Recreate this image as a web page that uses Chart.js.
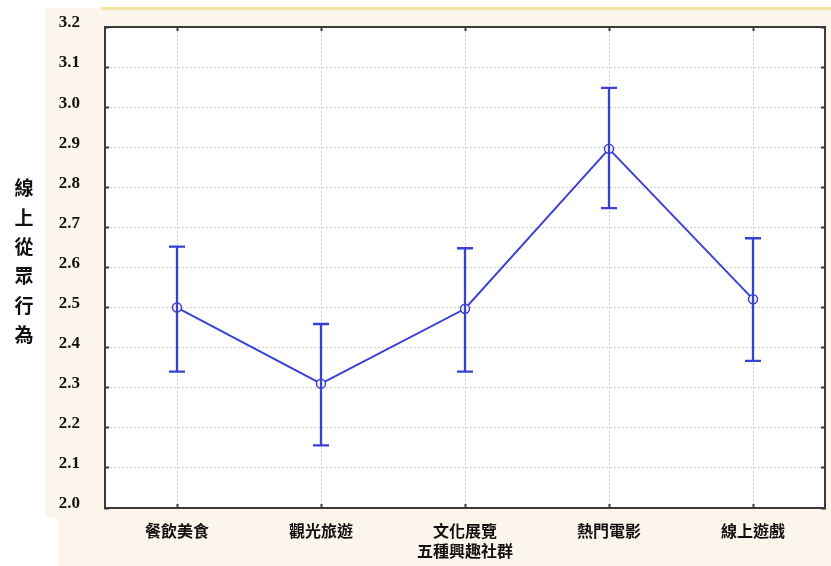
<!DOCTYPE html>
<html>
<head>
<meta charset="utf-8">
<title>線上從眾行為</title>
<script src="https://cdn.jsdelivr.net/npm/chart.js@4.4.0/dist/chart.umd.min.js"></script>
<style>
  html, body { margin: 0; padding: 0; background: #fff; }
  #wrap { position: relative; width: 831px; height: 566px; overflow: hidden; }
  .panel { position: absolute; background: #fbf5eb; }
  .rule { position: absolute; background: #f5e4a0; }
  #chart { position: absolute; left: 0; top: 0; }
</style>
</head>
<body>
<div id="wrap">
  <div class="panel" style="left:45px;top:8px;width:786px;height:510px"></div>
  <div class="panel" style="left:58px;top:500px;width:773px;height:66px"></div>
  <div class="rule" style="left:101px;top:7px;width:730px;height:3px"></div>
  <canvas id="chart" width="831" height="566"></canvas>
</div>
<script>
// group means with upper / lower interval bounds
const groups = ['餐飲美食', '觀光旅遊', '文化展覽', '熱門電影', '線上遊戲'];
const means = [2.50, 2.31, 2.497, 2.896, 2.521];
const upper = [2.652, 2.459, 2.648, 3.048, 2.673];
const lower = [2.340, 2.156, 2.340, 2.748, 2.367];

const yTitle = '線上從眾行為';
const xTitle = '五種興趣社群';
const yMin = 2.0;
const yMax = 3.2;
const yStep = 0.1;

const BLUE = '#3b40d4';
const FRAME = '#3a3a3a';
const GRID = '#cdcdcd';
const CJK = '"Noto Sans CJK TC", "Noto Sans CJK SC", sans-serif';
const SERIF = '"Liberation Serif", "DejaVu Serif", serif';

// white plotting area on top of the tinted page
const plotBackground = {
    id: 'plotBackground',
    beforeDraw(chart) {
        const { ctx, chartArea: a } = chart;
        ctx.save();
        ctx.fillStyle = '#ffffff';
        ctx.fillRect(a.left, a.top, a.right - a.left, a.bottom - a.top);
        ctx.restore();
    }
};

// vertical whiskers with caps
const errorBars = {
    id: 'errorBars',
    afterDatasetsDraw(chart) {
        const { ctx } = chart;
        const xs = chart.scales.x;
        const ys = chart.scales.y;
        const cap = 8;
        ctx.save();
        ctx.strokeStyle = BLUE;
        ctx.lineWidth = 2.3;
        groups.forEach((g, i) => {
            const x = xs.getPixelForValue(i);
            const yTop = ys.getPixelForValue(upper[i]);
            const yBot = ys.getPixelForValue(lower[i]);
            ctx.beginPath();
            ctx.moveTo(x, yTop);
            ctx.lineTo(x, yBot);
            ctx.moveTo(x - cap, yTop);
            ctx.lineTo(x + cap, yTop);
            ctx.moveTo(x - cap, yBot);
            ctx.lineTo(x + cap, yBot);
            ctx.stroke();
        });
        ctx.restore();
    }
};

// y-axis title written top to bottom, one character per line
const stackedTitle = {
    id: 'stackedTitle',
    afterDraw(chart) {
        const { ctx, chartArea: a } = chart;
        const chars = Array.from(yTitle);
        const step = 29.4;
        const mid = (a.top + a.bottom) / 2 - 6;
        ctx.save();
        ctx.font = 'bold 19px ' + CJK;
        ctx.fillStyle = '#111';
        ctx.textAlign = 'center';
        ctx.textBaseline = 'middle';
        chars.forEach((c, i) => {
            ctx.fillText(c, 24, mid + (i - (chars.length - 1) / 2) * step);
        });
        ctx.restore();
    }
};

// fixed box sizes so the plot frame lands in the same place every time
function fixBox(w, h) {
    return function (s) {
        if (w !== null) s.width = w;
        if (h !== null) s.height = h;
        s.paddingTop = 0;
        s.paddingBottom = 0;
        s.paddingLeft = 0;
        s.paddingRight = 0;
    };
}

const innerTicks = { tickLength: -4, tickColor: FRAME, tickWidth: 2 };
const frame = { color: FRAME, width: 2, dash: [2, 2] };

new Chart(document.getElementById('chart'), {
    type: 'line',
    data: {
        labels: groups,
        datasets: [{
            data: means,
            borderColor: BLUE,
            borderWidth: 2,
            tension: 0,
            fill: false,
            pointRadius: 4.5,
            pointBackgroundColor: '#ffffff',
            pointBorderColor: BLUE,
            pointBorderWidth: 1.5
        }]
    },
    options: {
        responsive: false,
        animation: false,
        layout: { padding: 0 },
        plugins: {
            legend: { display: false },
            tooltip: { enabled: false }
        },
        scales: {
            x: {
                type: 'category',
                position: 'bottom',
                offset: true,
                grid: Object.assign({ offset: false, color: GRID, lineWidth: 1 }, innerTicks),
                border: frame,
                ticks: {
                    color: '#111',
                    font: { family: CJK, size: 16, weight: 'bold' },
                    padding: 17,
                    maxRotation: 0,
                    autoSkip: false
                },
                title: {
                    display: true,
                    text: xTitle,
                    color: '#111',
                    font: { family: CJK, size: 16, weight: 'bold' },
                    padding: { top: 0, bottom: 5 }
                },
                afterFit: fixBox(null, 58)
            },
            x2: {
                type: 'category',
                position: 'top',
                labels: groups,
                offset: true,
                grid: Object.assign({ offset: false, drawOnChartArea: false }, innerTicks),
                border: frame,
                ticks: { display: false },
                afterFit: fixBox(null, 27)
            },
            y: {
                min: yMin,
                max: yMax,
                grid: Object.assign({ color: GRID, lineWidth: 1 }, innerTicks),
                border: frame,
                ticks: {
                    stepSize: yStep,
                    color: '#111',
                    font: { family: SERIF, size: 17, weight: 'bold' },
                    padding: 29,
                    labelOffset: -4,
                    callback: v => Number(v).toFixed(1)
                },
                afterFit: fixBox(105, null)
            },
            y2: {
                position: 'right',
                min: yMin,
                max: yMax,
                grid: Object.assign({ drawOnChartArea: false }, innerTicks),
                border: frame,
                ticks: { display: false, stepSize: yStep },
                afterFit: fixBox(6, null)
            }
        }
    },
    plugins: [plotBackground, errorBars, stackedTitle]
});
</script>
</body>
</html>
